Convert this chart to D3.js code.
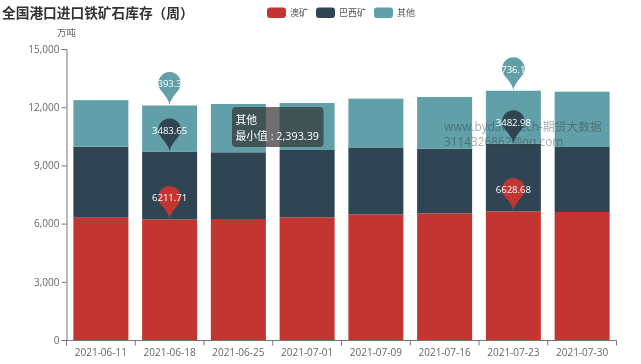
<!DOCTYPE html>
<html><head><meta charset="utf-8">
<script src="https://cdnjs.cloudflare.com/ajax/libs/d3/7.8.5/d3.min.js"></script>
<style>
html,body{margin:0;padding:0;background:#fff;overflow:hidden}
svg{display:block;font-family:"Open Sans","Noto Sans CJK SC",sans-serif;filter:blur(0.3px)}
</style></head><body><svg id="c" width="641" height="364"></svg>
<script>
const categories=["2021-06-11","2021-06-18","2021-06-25","2021-07-01","2021-07-09","2021-07-16","2021-07-23","2021-07-30"];
const seriesNames=["澳矿","巴西矿","其他"];
const seriesColors=["#c23531","#2f4554","#61a0a8"];
const aus=[6304,6211.71,6237,6325,6478,6529,6628.68,6598];
const brazil=[3660,3483.65,3440,3470,3420,3330,3482.98,3350];
const other=[2400,2393.39,2490,2422,2543,2665,2736.1,2852];
const yTicks=[0,3000,6000,9000,12000,15000];
const markerCats=["2021-06-18","2021-07-23"];
const titleText="全国港口进口铁矿石库存（周）";
const unitText="万吨";
const watermark=["www.bydata.tech-期货大数据","3114326862@qq.com"];
const tooltipLines=["其他","最小值 : 2,393.39"];

const svg=d3.select("#c");
const x=d3.scaleBand().domain(categories).range([66.5,616.5]).paddingInner(0.2).paddingOuter(0.1);
const y=d3.scaleLinear().domain([0,15000]).range([340,49]);
const grey="#666";
const layers=d3.stack().keys([0,1,2]).value((d,k)=>d[k])(categories.map((c,i)=>[aus[i],brazil[i],other[i]]));

svg.append("text").attr("x",2).attr("y",17.5).attr("font-size",13.7).attr("font-weight",700).attr("fill","#333").text(titleText);

const legendX=[267,316,374];
seriesNames.forEach((n,i)=>{
  svg.append("rect").attr("x",legendX[i]).attr("y",7.5).attr("width",19).attr("height",10.5).attr("rx",3).attr("fill",seriesColors[i]);
  svg.append("text").attr("x",legendX[i]+23).attr("y",16).attr("font-size",9).attr("fill","#555").text(n);
});

svg.append("text").attr("x",66.5).attr("y",36).attr("text-anchor","middle").attr("font-size",9.5).attr("fill",grey).text(unitText);

layers.forEach((l,s)=>{
  svg.append("g").selectAll("rect").data(l).join("rect")
    .attr("x",(d,i)=>x(categories[i])).attr("width",x.bandwidth())
    .attr("y",d=>y(d[1])).attr("height",d=>y(d[0])-y(d[1]))
    .attr("fill",seriesColors[s]);
});

const yAxis=svg.append("g").attr("transform","translate(66.5,0)").call(d3.axisLeft(y).tickValues(yTicks).tickSize(5).tickPadding(2).tickFormat(d3.format(",")));
const xAxis=svg.append("g").attr("transform","translate(0,340.5)").call(d3.axisBottom(x).tickSize(0).tickPadding(8));
[yAxis,xAxis].forEach(a=>{
  a.selectAll("text").attr("font-size",10).attr("font-family",null).attr("fill",grey);
  a.selectAll("line,path").attr("stroke","#777");
  a.attr("font-family",null);
});
xAxis.select("path").attr("d","M66.5,0H616.5");
const step=x.step();
const boundaries=categories.map((c,i)=>x(c)-(step-x.bandwidth())/2).concat([616.5]);
xAxis.selectAll("line.b").data(boundaries).join("line").attr("class","b")
  .attr("x1",d=>d).attr("x2",d=>d).attr("y1",0).attr("y2",5).attr("stroke","#777");

svg.append("g").selectAll("text").data(watermark).join("text")
  .attr("x",444).attr("y",(d,i)=>131+i*15.3).attr("font-size",11.8).attr("fill","#333").attr("opacity",0.42).text(d=>d);

function pinPath(cx,ty){
  const r=11.3,h=33,cy=ty-h+r,p=d3.path();
  p.moveTo(cx,ty);
  p.bezierCurveTo(cx-0.8,ty-7,cx-r+1,cy+6.5,cx-r+0.4,cy+3.5);
  p.arc(cx,cy,r,Math.PI-0.32,0.32,false);
  p.bezierCurveTo(cx+r-1,cy+6.5,cx+0.8,ty-7,cx,ty);
  p.closePath();
  return p.toString();
}
const markerIdx=markerCats.map(c=>categories.indexOf(c));
const seriesVals=[aus,brazil,other];
layers.forEach((l,s)=>{
  markerIdx.forEach(i=>{
    const cx=x(categories[i])+x.bandwidth()/2, ty=y(l[i][1])-0.5;
    svg.append("path").attr("d",pinPath(cx,ty)).attr("fill",seriesColors[s]);
    svg.append("text").attr("x",cx).attr("y",ty-17.5).attr("text-anchor","middle").attr("font-size",9.6).attr("fill","#fff").text(seriesVals[s][i].toFixed(2));
  });
});

const tip=svg.append("g").attr("transform","translate(232,107)");
tip.append("rect").attr("width",91.5).attr("height",40).attr("rx",4).attr("fill","rgb(50,50,50)").attr("fill-opacity",0.7);
tip.selectAll("text").data(tooltipLines).join("text").attr("x",3.5).attr("y",(d,i)=>17+i*15.5).attr("font-size",10.8).attr("fill","#fff").text(d=>d);
</script></body></html>
